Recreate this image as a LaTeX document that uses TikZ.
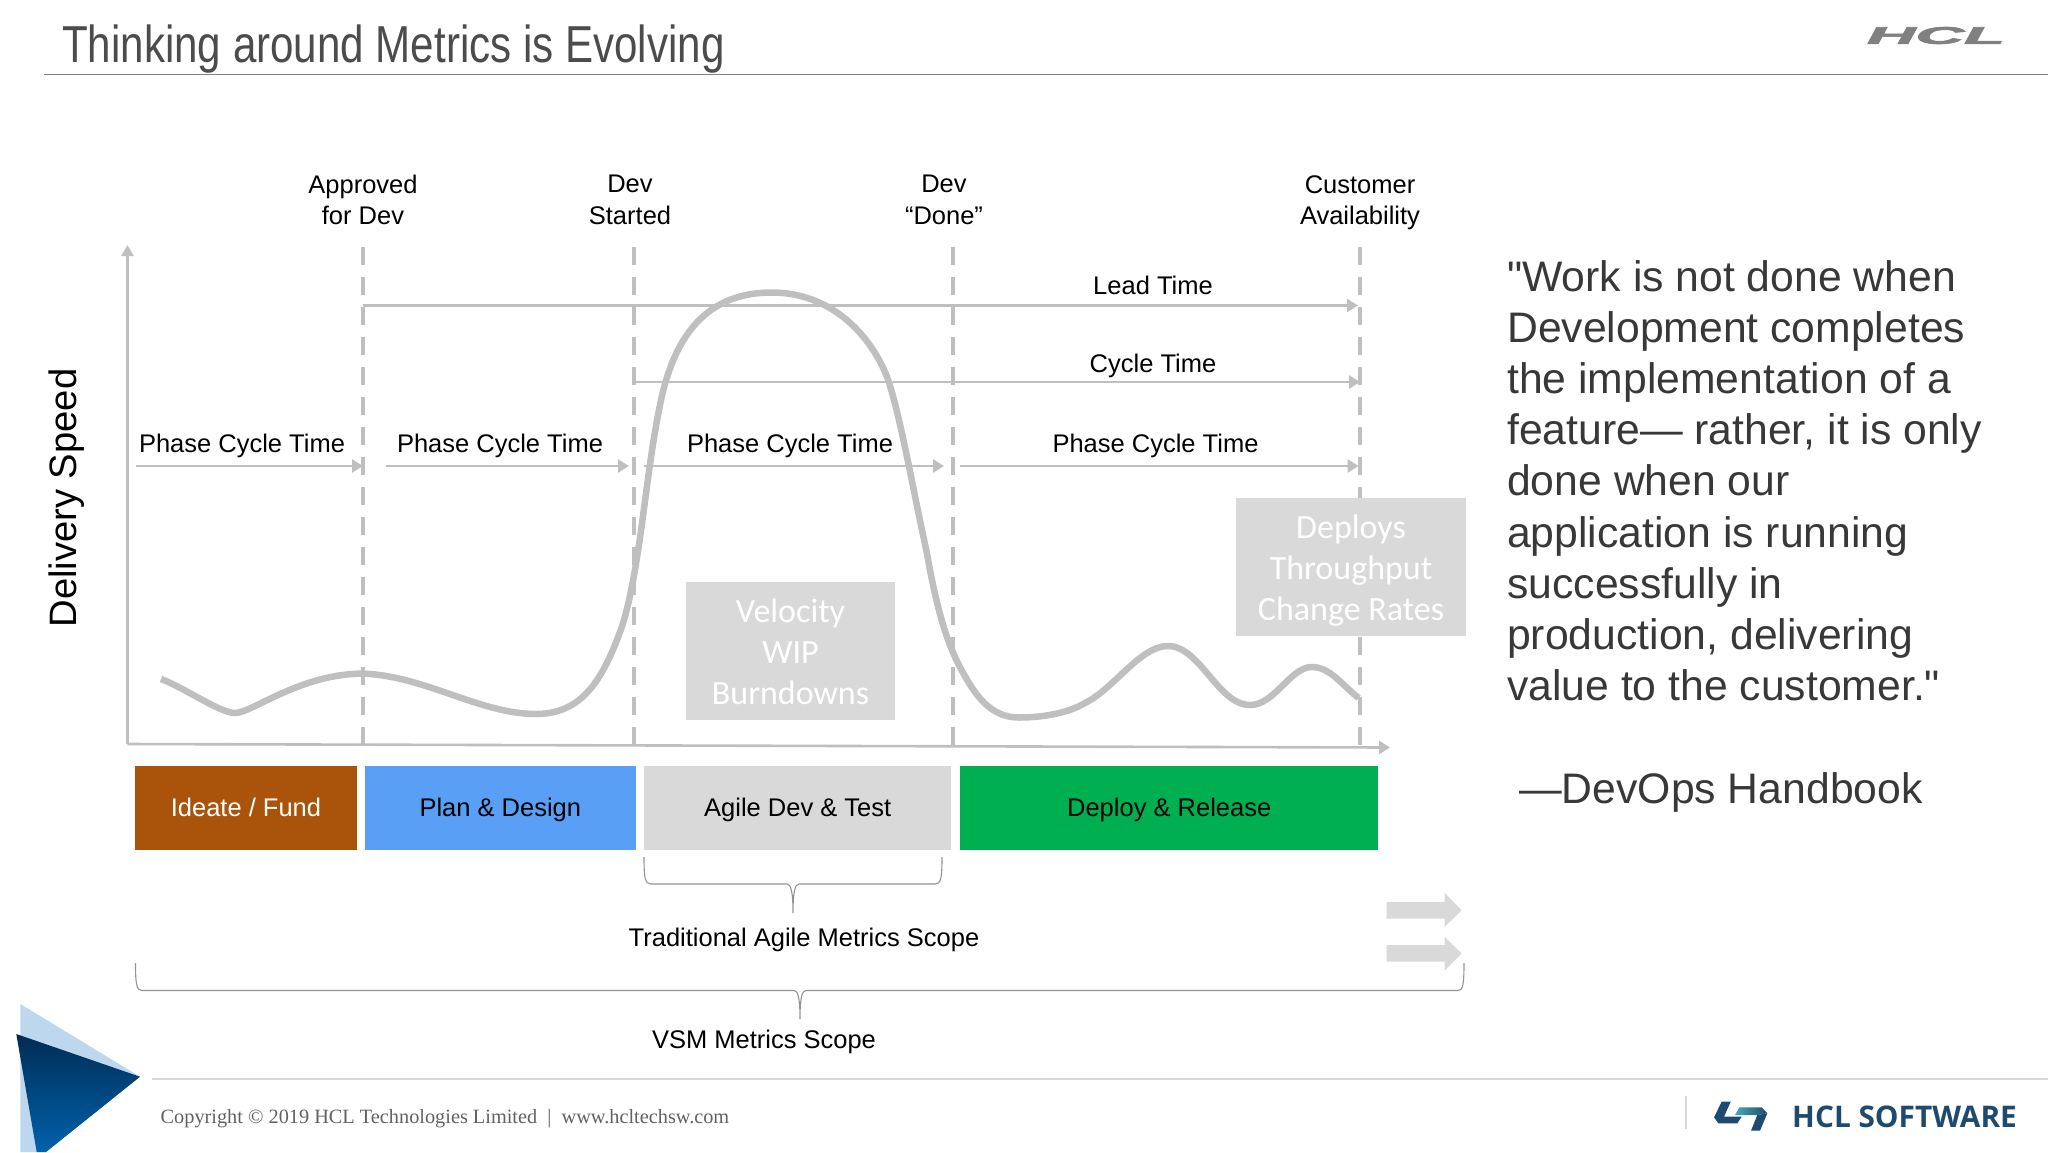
\documentclass[tikz,border=0pt]{standalone}
\usepackage{fontspec}
\setmainfont{Liberation Sans}
\newfontfamily\plainsans{Liberation Sans}
\newfontfamily\hclf{Liberation Sans}[BoldItalicFeatures={FakeBold=2.5}]
\newfontfamily\calib{Carlito}
\newfontfamily\serifc{Liberation Serif}
\newfontfamily\opens{Open Sans}
\usetikzlibrary{arrows.meta}
\definecolor{lg}{HTML}{BFBFBF}
\definecolor{pale}{HTML}{D9D9D9}
\definecolor{orangeb}{HTML}{A9540A}
\definecolor{blueb}{HTML}{589FF5}
\definecolor{greenb}{HTML}{00B050}
\definecolor{navy}{HTML}{1F4A70}
\newcommand{\fsz}[2]{\fontsize{#1}{#2}\selectfont}
\tikzset{
  x=1pt,y=-1pt,
  lab/.style={inner sep=0,align=center,font=\fsz{25.5}{31.5}},
  slab/.style={inner sep=0,text height=23.4pt,text depth=6pt,font=\fsz{25.5}{31.5}},
  bar/.style={inner sep=0,minimum height=84.5pt,anchor=north west,text height=23.4pt,text depth=6pt,font=\fsz{25.5}{31}},
  metric/.style={fill=pale,inner sep=0,anchor=north west},
  metrictext/.style={inner sep=0,text=white,align=center,font=\calib\fsz{34}{40.8}},
  dashline/.style={lg,line width=4,dash pattern=on 18pt off 12pt},
  flow/.style={lg,line width=2.4,-{Triangle[length=11pt,width=13pt]}},
  brace/.style={draw=gray!85,line width=1.1},
  block/.style={fill=pale,draw=none},
  quote/.style={inner sep=0,align=left,anchor=north west,text=black!78,font=\plainsans\fsz{42.7}{51.2}}
}
\begin{document}
\begin{tikzpicture}
\useasboundingbox (0,0) rectangle (2048,1152);
% title
\node[inner sep=0,anchor=base west,xscale=.81,transform shape,text=black!70,font=\fsz{52}{60}] (title) at (62,62) {Thinking around Metrics is Evolving};
\coordinate (r1a) at (44,74.5); \coordinate (r1b) at (2048,74.5);
\draw[gray,line width=1.6] (r1a) -- (r1b);
\node[inner sep=0,anchor=center,xscale=2.8,transform shape,text=black!50,font=\hclf\bfseries\itshape\fsz{24}{24}] (hcl) at (1936,35.5) {HCL};
% axes
\coordinate (o) at (127.5,744);
\coordinate (ytop) at (127.5,245);
\coordinate (xend) at (1390,747.5);
\draw[lg,line width=2.6,-{Triangle[length=11pt,width=12pt]}] (o) -- (ytop);
\draw[lg,line width=2.6,-{Triangle[length=11pt,width=13pt]}] (o) -- (xend);
% milestones
\foreach \n/\x in {a/363,b/634,c/953,d/1359.5}{
  \coordinate (\n top) at (\x,247);
  \coordinate (\n bot) at (\x,748);
  \draw[dashline] (\n top) -- (\n bot);
}
% time arrows
\coordinate (lead1) at (363,305.5); \coordinate (lead2) at (1358,305.5);
\coordinate (cyc1) at (634,382); \coordinate (cyc2) at (1360,382);
\draw[flow] (lead1) -- (lead2);
\draw[flow] (cyc1) -- (cyc2);
\foreach \p/\q in {135.5/363,386/629,644/944,960/1358.6}{
  \coordinate (pa) at (\p,466); \coordinate (pb) at (\q,466);
  \draw[flow] (pa) -- (pb);
}
% curve
\draw[lg,line width=6.5,line join=round] (161,679)
 .. controls (185,688) and (220,713) .. (235,713)
 .. controls (252,713) and (300,673.6) .. (363.5,673.6)
 .. controls (425,676) and (480,714) .. (536,714)
 .. controls (582,714) and (603,680) .. (622,626.4)
 .. controls (640,570) and (645,480) .. (659,410)
 .. controls (671,345) and (700,292.5) .. (771.6,292.5)
 .. controls (840,292.5) and (878,347.5) .. (889.3,383.6)
 .. controls (902,424) and (915,500) .. (926.6,551.4)
 .. controls (935,600) and (945,640) .. (961,669)
 .. controls (975,695) and (990,717.5) .. (1019,717.5)
 .. controls (1046,717.5) and (1070,712) .. (1085,703)
 .. controls (1115,688) and (1140,646) .. (1168,646)
 .. controls (1200,646) and (1218,705) .. (1250,705)
 .. controls (1275,705) and (1290,667) .. (1312,667)
 .. controls (1330,667) and (1342,685) .. (1358.6,698);
% metric boxes
\node[metric,minimum width=209pt,minimum height=138pt] (vel) at (686,582) {};
\node[metric,minimum width=230pt,minimum height=138pt] (dep) at (1236,498) {};
\node[metrictext] (velt) at (790.5,652) {Velocity\\WIP\\Burndowns};
\node[metrictext] (dept) at (1351,570.5) {Deploys\\Throughput\\Change Rates};
% labels
\node[lab] (m1) at (363,200) {Approved\\for Dev};
\node[lab] (m2) at (630,200) {Dev\\Started};
\node[lab] (m3) at (944,200) {Dev\\“Done”};
\node[lab] (m4) at (1360,202.5) {Customer\\Availability};
\node[slab] (ltl) at (1153,286) {Lead Time};
\node[slab] (ctl) at (1153,364) {Cycle Time};
\node[slab] (p1) at (242,444) {Phase Cycle Time};
\node[slab] (p2) at (500,444) {Phase Cycle Time};
\node[slab] (p3) at (790,444) {Phase Cycle Time};
\node[slab] (p4) at (1155.5,444) {Phase Cycle Time};
\node[inner sep=0,rotate=90,font=\fsz{38.2}{40}] (ds) at (66.5,498) {Delivery Speed};
% phase bars
\node[bar,fill=orangeb,text=white,minimum width=221.5pt] (ph1) at (135,765.5) {Ideate / Fund};
\node[bar,fill=blueb,minimum width=271pt] (ph2) at (364.6,765.5) {Plan \& Design};
\node[bar,fill=pale,minimum width=307pt] (ph3) at (644,765.5) {Agile Dev \& Test};
\node[bar,fill=greenb,minimum width=418pt] (ph4) at (960,765.5) {Deploy \& Release};
% braces
\draw[brace] (644,857) .. controls (644,878) and (645,884) .. (651,884) -- (787,884)
  .. controls (791,884) and (793,892) .. (793,913)
  .. controls (793,892) and (795,884) .. (799,884) -- (935,884)
  .. controls (941,884) and (942,878) .. (942,857);
\draw[brace] (135.5,963) .. controls (135.5,984) and (136.5,990.5) .. (142,990.5) -- (794,990.5)
  .. controls (798,990.5) and (800,998) .. (800,1019)
  .. controls (800,998) and (802,990.5) .. (806,990.5) -- (1458,990.5)
  .. controls (1463,990.5) and (1464,984) .. (1464,963);
\node[slab] (tam) at (804,937.5) {Traditional Agile Metrics Scope};
\node[slab] (vsm) at (764,1040) {VSM Metrics Scope};
% block arrows
\fill[block] (1386.6,902) -- (1444.6,902) -- (1444.6,892.7) -- (1461.6,910.3) -- (1444.6,927) -- (1444.6,918.7) -- (1386.6,918.7) -- cycle;
\fill[block] (1386.6,945) -- (1444.6,945) -- (1444.6,936.7) -- (1461.6,953.5) -- (1444.6,970.7) -- (1444.6,961.7) -- (1386.6,961.7) -- cycle;
% quote
\node[quote] (q) at (1507,260) {"Work is not done when\\Development completes\\the implementation of a\\feature— rather, it is only\\done when our\\application is running\\successfully in\\production, delivering\\value to the customer."};
\node[quote] (qa) at (1519,772) {—DevOps Handbook};
% footer
\fill[fill={rgb,255:red,189;green,215;blue,238}] (20.4,1004) -- (140,1076.7) -- (46,1152) -- (20.4,1152) -- cycle;
\shade[top color={rgb,255:red,0;green,44;blue,84},bottom color={rgb,255:red,0;green,98;blue,172}] (16.3,1034) -- (140,1076.7) -- (46,1152) -- (36.7,1152) -- cycle;
\coordinate (r2a) at (152,1079); \coordinate (r2b) at (2048,1079);
\draw[pale,line width=1.6] (r2a) -- (r2b);
\node[inner sep=0,anchor=west,text=black!62,font=\serifc\fsz{20.3}{22}] (copy) at (160.5,1119) {Copyright © 2019 HCL Technologies Limited \ | \ www.hcltechsw.com};
\coordinate (s1) at (1686,1096); \coordinate (s2) at (1686,1129);
\draw[pale,line width=1.2] (s1) -- (s2);
\fill[navy] (1721.7,1101.7) -- (1730.7,1101.7) -- (1724,1116.7) -- (1741.7,1116.7) -- (1737.3,1123.3) -- (1718.3,1123.3) -- (1714,1117.3) -- cycle;
\fill[navy] (1757.3,1115) -- (1767.3,1113.3) -- (1760,1130.7) -- (1751,1130.7) -- cycle;
\shade[left color={rgb,255:red,70;green,170;blue,185},right color=navy] (1739.3,1107.3) -- (1761.7,1107.3) -- (1767.3,1113.3) -- (1757.3,1115) -- (1735,1115) -- cycle;
\node[inner sep=0,anchor=west,text=navy,font=\opens\bfseries\fsz{29.8}{32}] (sw) at (1792,1117) {HCL SOFTWARE};
\end{tikzpicture}
\end{document}
